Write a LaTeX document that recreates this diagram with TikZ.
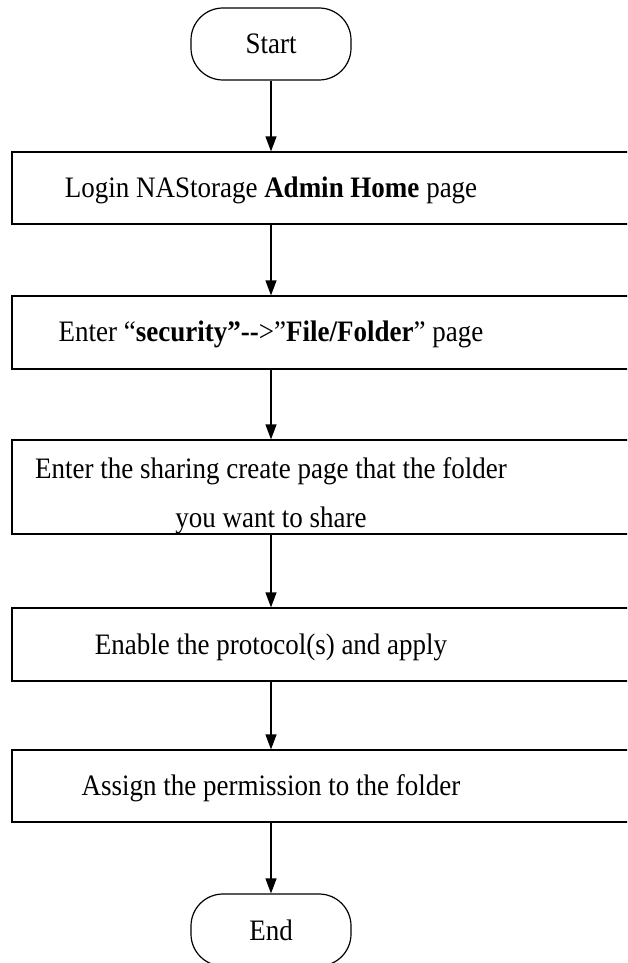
\documentclass[tikz,border=0pt]{standalone}
\usepackage{fontspec}
\usepackage{graphicx}
\setmainfont{Liberation Serif}
\usetikzlibrary{arrows.meta,fit}

% the text of the reference is a little taller than it is wide
\newcommand{\tline}[1]{\scalebox{1}[1.1]{#1}}

\tikzset{
  terminal/.style={draw, rounded corners=32pt, minimum width=160pt, minimum height=72pt, line width=1.2pt},
  stepbox/.style={draw, inner sep=0pt, line width=1.2pt},
  steptext/.style={font=\fontsize{27}{49}\selectfont, align=center, inner sep=0pt, anchor=base},
  flow/.style={-{Triangle[length=15pt,width=11pt]}, line width=1.2pt}
}

\begin{document}
\begin{tikzpicture}[x=1pt, y=-1pt]
        \path[use as bounding box, clip] (0,0) rectangle (627,963);

            \node[terminal] (start) at (271,44) {};
            \node[steptext] (tstart) at (271,54) {\tline{Start}};

            \node[stepbox, fit={(12,152) (640,224)}] (b1) {};
            \node[stepbox, fit={(12,296) (640,369)}] (b2) {};
            \node[stepbox, fit={(12,440) (640,534)}] (b3) {};
            \node[stepbox, fit={(12,608) (640,681)}] (b4) {};
            \node[stepbox, fit={(12,750) (640,822)}] (b5) {};

            \node[steptext] (t1) at (271,197) {\tline{Login NAStorage \textbf{Admin Home} page}};
            \node[steptext] (t2) at (271,341) {\tline{Enter “\textbf{security”\mbox{-}\mbox{-}}>”\textbf{File/Folder}” page}};
            % base of a two-line node is its last line
            \node[steptext] (t3) at (271,527) {\tline{Enter the sharing create page that the folder}\\\tline{you want to share}};
            \node[steptext] (t4) at (271,654) {\tline{Enable the protocol(s) and apply}};
            \node[steptext] (t5) at (271,795) {\tline{Assign the permission to the folder}};

            \node[terminal] (stop) at (271,930) {};
            \node[steptext] (tstop) at (271,940) {\tline{End}};

            \draw[flow] (start) -- (start |- b1.north);
            \draw[flow] (start |- b1.south) -- (start |- b2.north);
            \draw[flow] (start |- b2.south) -- (start |- b3.north);
            \draw[flow] (start |- b3.south) -- (start |- b4.north);
            \draw[flow] (start |- b4.south) -- (start |- b5.north);
            \draw[flow] (start |- b5.south) -- (stop);
        \end{tikzpicture}
\end{document}
